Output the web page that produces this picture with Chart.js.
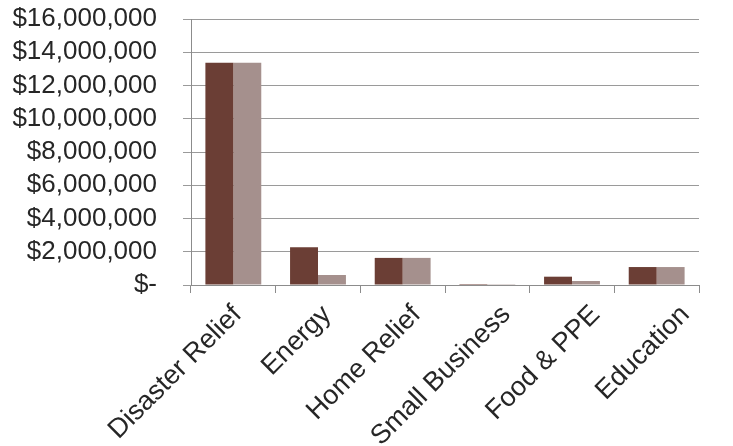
<!DOCTYPE html>
<html>
<head>
<meta charset="utf-8">
<script src="https://cdn.jsdelivr.net/npm/chart.js@4"></script>
<style>
  html, body { margin: 0; padding: 0; background: #ffffff; }
  #wrap { width: 733px; height: 446px; }
</style>
</head>
<body>
<div id="wrap"><canvas id="grafico"></canvas></div>
<script>
// categorias y montos por programa
const categorias = ['Disaster Relief', 'Energy', 'Home Relief', 'Small Business', 'Food & PPE', 'Education'];
const montoAsignado = [13370000, 2270000, 1630000, 60000, 500000, 1080000];
const montoGastado = [13370000, 600000, 1630000, 50000, 240000, 1080000];
const escalaMax = 16000000;
const escalaPaso = 2000000;

// rango del eje auxiliar de textos
const textoMin = -0.518;
const textoMax = 5.152;

Chart.defaults.font.family = '"Liberation Sans", Arial, sans-serif';
Chart.defaults.color = '#262626';

function formatoDolar(v){
	if(v == 0){
		return '$-';
	}
	return '$' + v.toLocaleString('en-US');
}

const config = {
	type: 'bar',
	data: {
		labels: categorias,
		datasets: [{
			label: 'Asignado',
			backgroundColor: '#6b3e35',
			data: montoAsignado,
			xAxisID: 'x',
			categoryPercentage: 0.66,
			barPercentage: 1.0
		}, {
			label: 'Gastado',
			backgroundColor: '#a5908d',
			data: montoGastado,
			xAxisID: 'x',
			categoryPercentage: 0.66,
			barPercentage: 1.0
		}]
	},
	options: {
		responsive: false,
		animation: false,
		layout: { padding: { top: 19, right: 34, left: 0, bottom: 0 } },
		plugins: { legend: { display: false }, tooltip: { enabled: false } },
		scales: {
			// eje de categorias: solo las marcas entre barras
			x: {
				weight: 0,
				grid: { drawOnChartArea: false, drawTicks: true, tickLength: 8, color: '#8c8c8c' },
				border: { color: '#8c8c8c' },
				ticks: { display: false },
				afterFit: function(scale){
					scale.height = 8;
					scale.paddingLeft = 0;
					scale.paddingRight = 0;
				}
			},
			// eje auxiliar para los textos inclinados, algo mas abierto que las barras
			xl: {
				type: 'linear',
				position: 'bottom',
				weight: 1,
				bounds: 'data',
				offset: false,
				min: textoMin,
				max: textoMax,
				grid: { display: false, drawTicks: false },
				border: { display: false },
				ticks: {
					minRotation: 45,
					maxRotation: 45,
					autoSkip: false,
					padding: 6,
					font: { size: 27 },
					callback: v => categorias[v]
				},
				afterBuildTicks: function(scale){
					scale.ticks = categorias.map((c, i) => ({ value: i }));
					scale.min = textoMin;
					scale.max = textoMax;
				},
				afterFit: function(scale){
					scale.height = 153;
					scale.paddingLeft = 0;
					scale.paddingRight = 0;
				}
			},
			y: {
				min: 0,
				max: escalaMax,
				grid: { color: '#9a9a9a', tickLength: 8 },
				border: { color: '#8c8c8c' },
				ticks: {
					stepSize: escalaPaso,
					autoSkip: false,
					padding: 26,
					font: { size: 26 },
					callback: v => formatoDolar(v)
				},
				afterFit: function(scale){
					scale.width = 191;
					scale.paddingTop = 0;
					scale.paddingBottom = 0;
				}
			}
		}
	}
};

const canvas = document.getElementById('grafico');
canvas.width = 733;
canvas.height = 446;
new Chart(canvas, config);
</script>
</body>
</html>
